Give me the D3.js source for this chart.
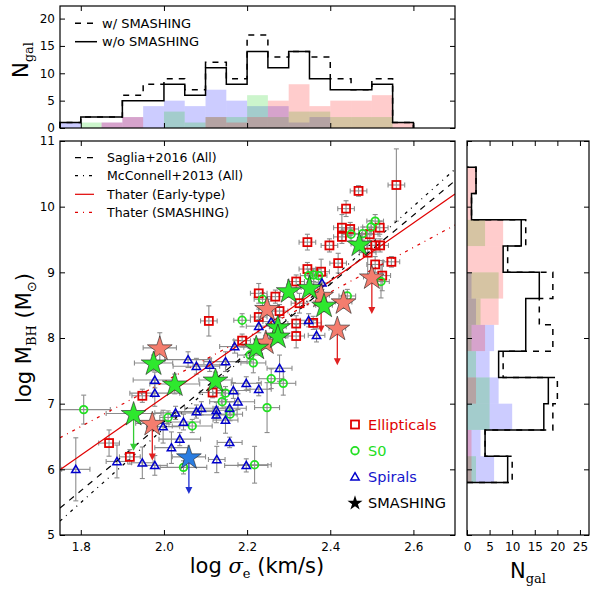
<!DOCTYPE html>
<html><head><meta charset="utf-8">
<script src="https://cdn.jsdelivr.net/npm/d3@7"></script>
<style>body{margin:0;background:#fff} svg{display:block} text{font-family:"DejaVu Sans",sans-serif}</style>
</head><body><svg id="c" width="600" height="596"></svg>
<script>
// ---------------- DATA ----------------
// [log sigma, log Mbh, x error, y error]
const ellipticals = [
[2.559,10.33,0.02,0.55],[2.468,10.24,0.02,0.08],[2.438,9.97,0.02,0.12],[2.428,9.68,0.02,0.2],
[2.448,9.66,0.02,0.1],[2.519,9.68,0.02,0.1],[2.428,9.54,0.02,0.1],[2.495,9.58,0.02,0.1],
[2.345,9.46,0.02,0.12],[2.398,9.41,0.02,0.1],[2.508,9.41,0.02,0.1],[2.520,9.41,0.02,0.1],
[2.490,9.30,0.02,0.35],[2.419,9.14,0.02,0.15],[2.508,9.12,0.02,0.12],[2.547,9.16,0.02,0.08],
[2.525,8.95,0.02,0.23],[2.345,9.05,0.02,0.1],[2.378,9.01,0.02,0.19],[2.318,8.86,0.02,0.1],
[2.228,8.68,0.02,0.15],[2.268,8.63,0.02,0.1],[2.108,8.26,0.02,0.23],[2.228,8.32,0.02,0.12],
[2.326,8.53,0.02,0.15],[2.278,8.41,0.02,0.1],[2.318,8.22,0.02,0.12],[2.359,8.23,0.02,0.1],
[2.318,8.03,0.02,0.18],[2.188,7.96,0.02,0.1],[1.948,7.12,0.025,0.1],[2.117,7.17,0.03,0.08],
[1.868,6.40,0.025,0.2],[1.918,6.19,0.025,0.11]
];
const lenticulars = [
[2.508,9.78,0.02,0.1],[2.498,9.69,0.02,0.1],[2.450,9.58,0.02,0.1],[2.478,9.59,0.02,0.1],
[2.348,8.95,0.02,0.1],[2.360,8.96,0.02,0.1],[2.372,8.95,0.02,0.1],[2.237,8.59,0.02,0.1],
[2.188,8.27,0.02,0.1],[2.522,8.86,0.02,0.25],[2.441,8.64,0.02,0.1],[2.207,7.74,0.03,0.1],
[2.215,7.62,0.03,0.15],[2.258,7.38,0.03,0.15],[2.287,7.31,0.03,0.18],[2.248,6.94,0.03,0.38],
[1.807,6.91,0.064,0.22],[2.148,7.16,0.03,0.1],[2.140,7.03,0.03,0.1],[2.159,6.84,0.03,0.1],
[2.010,6.79,0.02,0.1],[2.068,6.66,0.048,0.1],[2.047,6.03,0.056,0.1],[2.218,6.07,0.04,0.28]
];
const spirals = [
[2.380,8.84,0.02,0.1],[2.348,8.27,0.02,0.1],[2.367,8.04,0.02,0.1],[2.258,8.25,0.02,0.1],
[2.228,8.18,0.03,0.1],[2.170,7.87,0.036,0.1],[2.148,7.64,0.052,0.15],[2.110,7.59,0.04,0.1],
[2.278,7.54,0.03,0.2],[2.058,7.67,0.056,0.12],[2.078,7.57,0.056,0.12],[1.978,7.36,0.052,0.12],
[1.978,7.16,0.06,0.2],[2.198,7.31,0.036,0.1],[2.228,7.22,0.03,0.1],[2.167,7.20,0.04,0.12],
[2.178,7.03,0.04,0.12],[2.158,6.93,0.04,0.1],[2.126,6.90,0.05,0.12],[2.126,6.83,0.05,0.12],
[2.148,6.75,0.03,0.2],[2.090,6.93,0.04,0.1],[2.078,6.88,0.05,0.1],[2.028,6.86,0.05,0.1],
[2.047,6.72,0.04,0.12],[1.998,6.65,0.04,0.25],[2.038,6.46,0.05,0.1],[2.018,6.33,0.04,0.24],
[2.158,6.41,0.03,0.08],[2.127,6.15,0.02,0.2],[2.198,6.06,0.052,0.1],[1.887,6.12,0.026,0.25],
[1.948,6.10,0.026,0.24],[1.978,6.06,0.03,0.15],[1.788,6.00,0.034,0.48]
];
// SMASHING: [x, y, xerr, yerr, type, upper limit]
const smashing = [
[1.990,7.85,0.04,0.23,'E',0],[1.972,6.70,0.04,0,'E',1],[2.248,8.45,0.02,0.1,'E',0],
[2.245,7.94,0.02,0.1,'E',0],[2.378,8.65,0.02,0,'E',1],[2.432,8.55,0.02,0.1,'E',0],
[2.500,8.93,0.02,0,'E',1],[2.417,8.15,0.02,0,'E',1],
[1.975,7.62,0.046,0.12,'S0',0],[2.026,7.30,0.06,0.15,'S0',0],[2.124,7.36,0.04,0.12,'S0',0],
[1.927,6.85,0.066,0,'S0',1],[2.222,7.86,0.03,0.1,'S0',0],[2.274,8.17,0.02,0.1,'S0',0],
[2.274,8.03,0.02,0.1,'S0',0],[2.300,8.72,0.02,0.1,'S0',0],[2.350,8.77,0.02,0.1,'S0',0],
[2.385,8.50,0.02,0.1,'S0',0],[2.470,9.43,0.02,0.1,'S0',0],
[2.060,6.19,0.04,0,'Sp',1]
];
// Relations: y = at23 + slope*(x-2.3)
const fitNames = ['Saglia+2016 (All)','McConnell+2013 (All)','Thater (Early-type)','Thater (SMASHING)'];
const fitAt23 = [8.296, 8.314, 8.426, 8.356];
const fitSlope = [5.246, 5.64, 4.42, 3.41];

// Top histogram (log sigma bins)
const topEdges = [1.75,1.80,1.85,1.90,1.95,2.00,2.05,2.10,2.15,2.20,2.25,2.30,2.35,2.40,2.45,2.50,2.55,2.60];
const topSolid  = [1,2,2,5,5,8,6,11,8,14,11,14,9,7,7,8,1];
const topDashed = [1,2,2,6,8,9,7,12,9,17,13,14,13,9,7,9,1];
const topRed    = [0,0,1,2,0,0,0,2,1,2,5,8,4,5,5,6,1];
const topGreen  = [0,1,0,0,0,3,1,2,2,6,2,3,3,2,2,2,0];
const topBlue   = [1,0,1,2,4,5,4,7,5,4,4,1,2,0,0,0,0];
// Right histogram (log Mbh bins)
const rightEdges = [5.8,6.2,6.6,7.0,7.4,7.8,8.2,8.6,9.0,9.4,9.8,10.2,10.6];
const rightSolid  = [9,4,17,18,7,13,13,16,8,12,1,2];
const rightDashed = [10,4,19,20,8,19,16,19,9,13,1,2];
const rightRed    = [1,1,0,2,0,4,7,8,8,8,1,2];
const rightGreen  = [2,0,5,5,2,1,3,7,0,4,0,0];
const rightBlue   = [6,3,10,7,5,6,2,1,0,0,0,0];

const xTicks = [1.8,2.0,2.2,2.4,2.6];
const yTicks = [5,6,7,8,9,10,11];
const topYTicks = [0,5,10,15,20];
const rightXTicks = [0,5,10,15,20,25];

// ---------------- DRAW ----------------
const svg = d3.select('#c');
svg.append('rect').attr('width',600).attr('height',596).attr('fill','#fff');

const x = d3.scaleLinear().domain([1.75,2.70]).range([60,455]);
const y = d3.scaleLinear().domain([5,11]).range([535,141]);
const yTop = d3.scaleLinear().domain([0,22.3]).range([128,6]);
const xRight = d3.scaleLinear().domain([0,27]).range([467,589]);

const RED='#e00000', GREEN='#22e022', BLUE='#0000cc';
const tickFont = 12;

function styleAxis(g, showLabels){
  g.select('.domain').remove();
  g.selectAll('.tick line').attr('stroke','#000').attr('stroke-width',1);
  g.selectAll('.tick text').attr('font-size',tickFont).attr('fill','#000')
   .attr('font-family','DejaVu Sans, sans-serif');
  if(!showLabels) g.selectAll('.tick text').remove();
}

// ---- top histogram ----
const topG = svg.append('g');
[[topBlue,'#0000ff'],[topGreen,'#00cc00'],[topRed,'#ff0000']].forEach(([vals,col])=>{
  topG.selectAll(null).data(vals.map((v,i)=>({v,i})).filter(d=>d.v>0)).enter().append('rect')
    .attr('x',d=>x(topEdges[d.i])).attr('width',d=>x(topEdges[d.i+1])-x(topEdges[d.i]))
    .attr('y',d=>yTop(d.v)).attr('height',d=>yTop(0)-yTop(d.v))
    .attr('fill',col).attr('fill-opacity',0.2);
});
function stepTop(vals){
  const pts=[[topEdges[0],0]];
  vals.forEach((v,i)=>{pts.push([topEdges[i],v]);pts.push([topEdges[i+1],v]);});
  pts.push([topEdges[topEdges.length-1],0]);
  return d3.line().x(d=>x(d[0])).y(d=>yTop(d[1]))(pts);
}
topG.append('path').attr('d',stepTop(topDashed)).attr('fill','none').attr('stroke','#000').attr('stroke-width',1.5).attr('stroke-dasharray','6,6');
topG.append('path').attr('d',stepTop(topSolid)).attr('fill','none').attr('stroke','#000').attr('stroke-width',1.5);
topG.append('g').attr('transform','translate(0,128)').call(d3.axisBottom(x).tickValues(xTicks).tickSize(-5)).call(g=>styleAxis(g,false));
topG.append('g').attr('transform','translate(0,6)').call(d3.axisTop(x).tickValues(xTicks).tickSize(-5)).call(g=>styleAxis(g,false));
topG.append('g').attr('transform','translate(60,0)').call(d3.axisLeft(yTop).tickValues(topYTicks).tickSize(-5).tickPadding(5)).call(g=>styleAxis(g,true));
topG.append('g').attr('transform','translate(455,0)').call(d3.axisRight(yTop).tickValues(topYTicks).tickSize(-5)).call(g=>styleAxis(g,false));
topG.append('rect').attr('x',60).attr('y',6).attr('width',395).attr('height',122).attr('fill','none').attr('stroke','#000').attr('stroke-width',1.2);
// top legend
[['6,6',23.3,'w/ SMASHING'],[null,41.7,'w/o SMASHING']].forEach(([da,yy,t])=>{
  const l=topG.append('line').attr('x1',75).attr('x2',97).attr('y1',yy).attr('y2',yy).attr('stroke','#000').attr('stroke-width',1.5);
  if(da) l.attr('stroke-dasharray','6,6');
  topG.append('text').attr('x',102).attr('y',yy).attr('dy','0.36em').attr('font-size',13).text(t);
});
// N_gal label (top)
const tl = svg.append('text').attr('transform','translate(28,60) rotate(-90)').attr('text-anchor','middle').attr('font-size',21);
tl.append('tspan').text('N');
tl.append('tspan').attr('font-family','DejaVu Serif, serif').attr('font-size',13).attr('dy',5).text('gal');

// ---- main panel ----
const mainG = svg.append('g');
svg.append('clipPath').attr('id','clipMain').append('rect').attr('x',60).attr('y',141).attr('width',395).attr('height',394);
const plot = mainG.append('g').attr('clip-path','url(#clipMain)');

// error bars
const allPts = ellipticals.concat(lenticulars, spirals, smashing.map(d=>[d[0],d[1],d[2],d[3]]));
const eb = plot.append('g').attr('stroke','#8c8c8c').attr('stroke-width',1.1);
allPts.forEach(d=>{
  const cx=x(d[0]), cy=y(d[1]);
  if(d[2]>0){
    const x0=x(d[0]-d[2]), x1=x(d[0]+d[2]);
    eb.append('line').attr('x1',x0).attr('x2',x1).attr('y1',cy).attr('y2',cy);
    eb.append('line').attr('x1',x0).attr('x2',x0).attr('y1',cy-2.5).attr('y2',cy+2.5);
    eb.append('line').attr('x1',x1).attr('x2',x1).attr('y1',cy-2.5).attr('y2',cy+2.5);
  }
  if(d[3]>0){
    const y0=y(d[1]-d[3]), y1=y(d[1]+d[3]);
    eb.append('line').attr('x1',cx).attr('x2',cx).attr('y1',y0).attr('y2',y1);
    eb.append('line').attr('x1',cx-2.5).attr('x2',cx+2.5).attr('y1',y0).attr('y2',y0);
    eb.append('line').attr('x1',cx-2.5).attr('x2',cx+2.5).attr('y1',y1).attr('y2',y1);
  }
});

// relations
const fitColors=['#000','#000',RED,RED];
const fitDash=['6,6','3,5,1,5',null,'3,5,1,5'];
fitNames.forEach((n,i)=>{
  const f=v=>fitAt23[i]+fitSlope[i]*(v-2.3);
  const p=plot.append('line').attr('x1',x(1.75)).attr('x2',x(2.70)).attr('y1',y(f(1.75))).attr('y2',y(f(2.70)))
    .attr('stroke',fitColors[i]).attr('stroke-width',1.2);
  if(fitDash[i]) p.attr('stroke-dasharray',fitDash[i]);
});

// markers
plot.append('g').selectAll('rect').data(ellipticals).enter().append('rect')
  .attr('x',d=>x(d[0])-4).attr('y',d=>y(d[1])-4).attr('width',8).attr('height',8)
  .attr('fill','none').attr('stroke',RED).attr('stroke-width',1.8);
plot.append('g').selectAll('circle').data(lenticulars).enter().append('circle')
  .attr('cx',d=>x(d[0])).attr('cy',d=>y(d[1])).attr('r',3.8)
  .attr('fill','none').attr('stroke',GREEN).attr('stroke-width',1.8);
plot.append('g').selectAll('path').data(spirals).enter().append('path')
  .attr('d',d3.symbol().type(d3.symbolTriangle).size(30))
  .attr('transform',d=>`translate(${x(d[0])},${y(d[1])+0.8})`)
  .attr('fill','none').attr('stroke',BLUE).attr('stroke-width',1.5);

// SMASHING upper-limit arrows
const starFill={E:'#f47d6e',S0:'#2ee82e',Sp:'#2a7de1'};
const arrowCol={E:'#e02020',S0:'#33cc33',Sp:'#2030d0'};
const ARROW=0.55;
smashing.filter(d=>d[5]).forEach(d=>{
  const cx=x(d[0]), y0=y(d[1]), y1=y(d[1]-ARROW);
  plot.append('line').attr('x1',cx).attr('x2',cx).attr('y1',y0).attr('y2',y1-5).attr('stroke',arrowCol[d[4]]).attr('stroke-width',1.3);
  plot.append('path').attr('d',`M${cx-3.5},${y1-6}L${cx+3.5},${y1-6}L${cx},${y1+1}Z`).attr('fill',arrowCol[d[4]]);
});
const order={E:0,S0:1,Sp:2};
plot.append('g').selectAll('path').data(smashing.slice().sort((a,b)=>order[a[4]]-order[b[4]])).enter().append('path')
  .attr('d',d3.symbol().type(d3.symbolStar).size(190))
  .attr('transform',d=>`translate(${x(d[0])},${y(d[1])+1})`)
  .attr('fill',d=>starFill[d[4]]).attr('stroke','#222').attr('stroke-width',0.6);

// axes main
mainG.append('g').attr('transform','translate(0,535)').call(d3.axisBottom(x).tickValues(xTicks).tickSize(-5).tickPadding(7).tickFormat(d3.format('.1f'))).call(g=>styleAxis(g,true));
mainG.append('g').attr('transform','translate(0,141)').call(d3.axisTop(x).tickValues(xTicks).tickSize(-5)).call(g=>styleAxis(g,false));
mainG.append('g').attr('transform','translate(60,0)').call(d3.axisLeft(y).tickValues(yTicks).tickSize(-5).tickPadding(5).tickFormat(d3.format('d'))).call(g=>styleAxis(g,true));
mainG.append('g').attr('transform','translate(455,0)').call(d3.axisRight(y).tickValues(yTicks).tickSize(-5)).call(g=>styleAxis(g,false));
mainG.append('rect').attr('x',60).attr('y',141).attr('width',395).attr('height',394).attr('fill','none').attr('stroke','#000').attr('stroke-width',1.2);

// relation legend
const legY=[157.7,175.7,194.3,212.3];
fitNames.forEach((n,i)=>{
  const l=mainG.append('line').attr('x1',75).attr('x2',94).attr('y1',legY[i]).attr('y2',legY[i]).attr('stroke',fitColors[i]).attr('stroke-width',1.2);
  if(fitDash[i]) l.attr('stroke-dasharray',fitDash[i]);
  mainG.append('text').attr('x',107).attr('y',legY[i]).attr('dy','0.36em').attr('font-size',12.5).text(n);
});
// type legend
const tLegY=[424.5,450.7,476.7,502.7];
mainG.append('rect').attr('x',351).attr('y',tLegY[0]-4).attr('width',8).attr('height',8).attr('fill','none').attr('stroke',RED).attr('stroke-width',1.8);
mainG.append('circle').attr('cx',355).attr('cy',tLegY[1]).attr('r',3.8).attr('fill','none').attr('stroke',GREEN).attr('stroke-width',1.8);
mainG.append('path').attr('d',d3.symbol().type(d3.symbolTriangle).size(30)).attr('transform',`translate(355,${tLegY[2]+0.8})`).attr('fill','none').attr('stroke',BLUE).attr('stroke-width',1.5);
mainG.append('path').attr('d',d3.symbol().type(d3.symbolStar).size(70)).attr('transform',`translate(355,${tLegY[3]+0.5})`).attr('fill','#000');
[['Ellipticals',RED],['S0','#22dd22'],['Spirals','#1515cc'],['SMASHING','#000']].forEach(([t,c],i)=>{
  mainG.append('text').attr('x',368).attr('y',tLegY[i]).attr('dy','0.36em').attr('font-size',14.5).attr('fill',c).text(t);
});

// axis labels
const xl = svg.append('text').attr('x',257).attr('y',573).attr('text-anchor','middle').attr('font-size',21);
xl.append('tspan').text('log ');
xl.append('tspan').attr('font-family','DejaVu Serif, serif').attr('font-style','italic').text('σ');
xl.append('tspan').attr('font-family','DejaVu Serif, serif').attr('font-size',13).attr('dy',5).text('e');
xl.append('tspan').attr('dy',-5).text(' (km/s)');
const yl = svg.append('text').attr('transform','translate(31,338) rotate(-90)').attr('text-anchor','middle').attr('font-size',21);
yl.append('tspan').text('log M');
yl.append('tspan').attr('font-family','DejaVu Serif, serif').attr('font-size',13).attr('dy',5).text('BH');
yl.append('tspan').attr('dy',-5).text(' (M');
yl.append('tspan').attr('font-size',13).attr('dy',5).text('⊙');
yl.append('tspan').attr('dy',-5).text(')');

// ---- right histogram ----
const rG = svg.append('g');
[[rightBlue,'#0000ff'],[rightGreen,'#00cc00'],[rightRed,'#ff0000']].forEach(([vals,col])=>{
  rG.selectAll(null).data(vals.map((v,i)=>({v,i})).filter(d=>d.v>0)).enter().append('rect')
    .attr('x',xRight(0)).attr('width',d=>xRight(d.v)-xRight(0))
    .attr('y',d=>y(rightEdges[d.i+1])).attr('height',d=>y(rightEdges[d.i])-y(rightEdges[d.i+1]))
    .attr('fill',col).attr('fill-opacity',0.2);
});
function stepRight(vals){
  const pts=[[0,rightEdges[0]]];
  vals.forEach((v,i)=>{pts.push([v,rightEdges[i]]);pts.push([v,rightEdges[i+1]]);});
  pts.push([0,rightEdges[rightEdges.length-1]]);
  return d3.line().x(d=>xRight(d[0])).y(d=>y(d[1]))(pts);
}
rG.append('path').attr('d',stepRight(rightDashed)).attr('fill','none').attr('stroke','#000').attr('stroke-width',1.5).attr('stroke-dasharray','6,6');
rG.append('path').attr('d',stepRight(rightSolid)).attr('fill','none').attr('stroke','#000').attr('stroke-width',1.5);
rG.append('g').attr('transform','translate(0,535)').call(d3.axisBottom(xRight).tickValues(rightXTicks).tickSize(-5).tickPadding(7)).call(g=>styleAxis(g,true));
rG.append('g').attr('transform','translate(0,141)').call(d3.axisTop(xRight).tickValues(rightXTicks).tickSize(-5)).call(g=>styleAxis(g,false));
rG.append('g').attr('transform','translate(467,0)').call(d3.axisLeft(y).tickValues(yTicks).tickSize(-5)).call(g=>styleAxis(g,false));
rG.append('g').attr('transform','translate(589,0)').call(d3.axisRight(y).tickValues(yTicks).tickSize(-5)).call(g=>styleAxis(g,false));
rG.append('rect').attr('x',467).attr('y',141).attr('width',122).attr('height',394).attr('fill','none').attr('stroke','#000').attr('stroke-width',1.2);
const rl = svg.append('text').attr('x',528).attr('y',578).attr('text-anchor','middle').attr('font-size',21);
rl.append('tspan').text('N');
rl.append('tspan').attr('font-family','DejaVu Serif, serif').attr('font-size',13).attr('dy',5).text('gal');
</script></body></html>
